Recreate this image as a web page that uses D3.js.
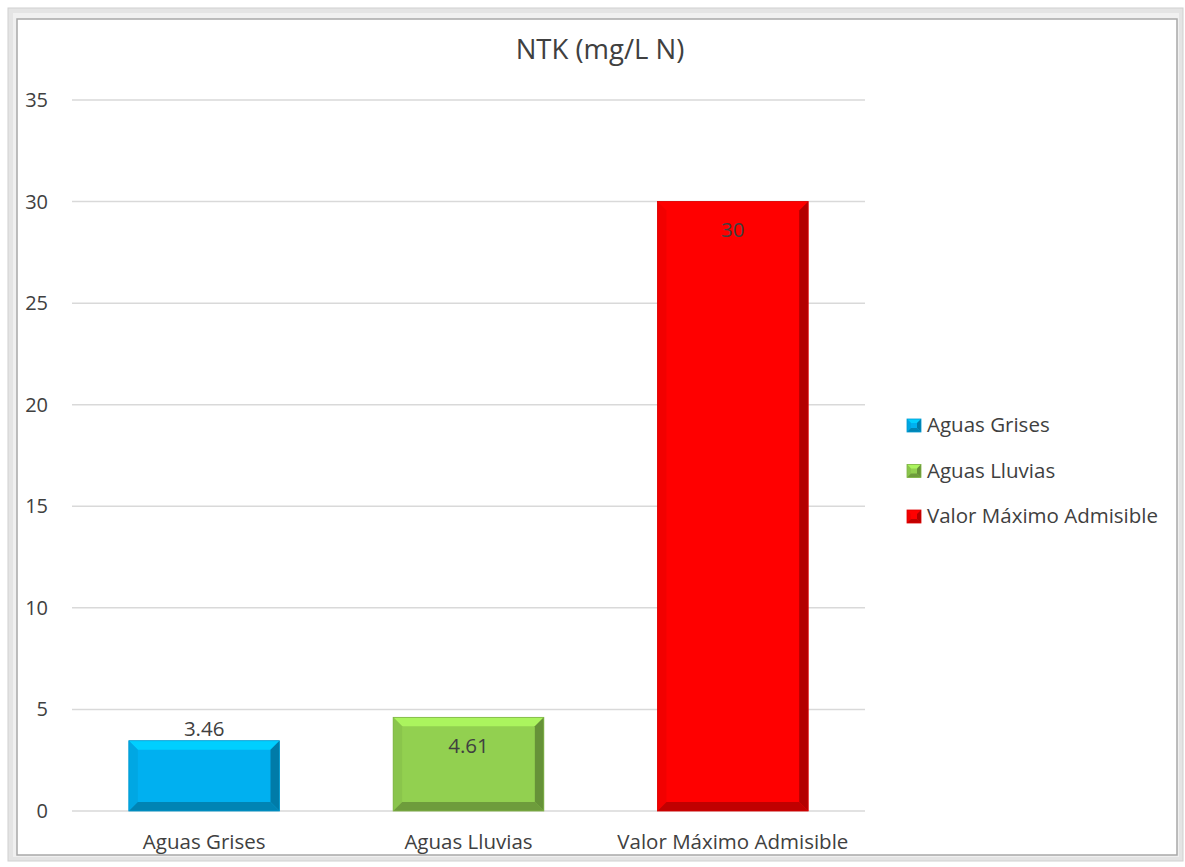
<!DOCTYPE html>
<html>
<head>
<meta charset="utf-8">
<script src="https://cdn.jsdelivr.net/npm/d3@7"></script>
<style>
  body { margin: 0; background: #fff; }
  text { font-family: "Open Sans", "Noto Sans", sans-serif; fill: #404040; }
</style>
</head>
<body>
<div id="chart"></div>
<script>
// data
const categories = ["Aguas Grises", "Aguas Lluvias", "Valor Máximo Admisible"];
const values = [3.46, 4.61, 30];
const labels = ["3.46", "4.61", "30"];
const colors = ["#00b0f0", "#92d050", "#ff0000"];
const yTicks = [0, 5, 10, 15, 20, 25, 30, 35];

const W = 1185, H = 867;
const padding = {left: 72, right: 320, top: 100, bottom: 56};

const svg = d3.select("#chart").append("svg")
    .attr("width", W).attr("height", H);

// frame
svg.append("rect").attr("x", 8).attr("y", 8).attr("width", 1175).attr("height", 853)
    .attr("fill", "#e4e4e4").attr("stroke", "#d0d0d0").attr("stroke-width", 1);
svg.append("rect").attr("x", 13).attr("y", 13).attr("width", 1166).attr("height", 844)
    .attr("fill", "#f0f0f0");
svg.append("rect").attr("x", 17).attr("y", 19).attr("width", 1160).attr("height", 836)
    .attr("fill", "#fff").attr("stroke", "#a8a8a8").attr("stroke-width", 1.5);

// scales
const x = d3.scaleBand()
    .domain(categories)
    .range([padding.left, 865])
    .paddingInner(0.43)
    .paddingOuter(0.215);
const y = d3.scaleLinear().domain([0, 35]).range([811, 100]);

// grid
svg.append("g").selectAll("line")
    .data(yTicks)
    .enter().append("line")
    .attr("x1", padding.left).attr("x2", 865)
    .attr("y1", d => y(d)).attr("y2", d => y(d))
    .attr("stroke", "#d9d9d9").attr("stroke-width", 1.5);

// y axis labels
svg.append("g").selectAll("text")
    .data(yTicks)
    .enter().append("text")
    .attr("x", 48).attr("y", d => y(d))
    .attr("dy", "0.35em")
    .attr("text-anchor", "end")
    .style("font-size", "20px")
    .text(d => d);

// x axis labels
svg.append("g").selectAll("text")
    .data(categories)
    .enter().append("text")
    .attr("x", d => x(d) + x.bandwidth() / 2)
    .attr("y", 842)
    .attr("dy", "0.35em")
    .attr("text-anchor", "middle")
    .style("font-size", "20.5px")
    .text(d => d);

// title
svg.append("text")
    .attr("x", 600).attr("y", 49)
    .attr("dy", "0.35em")
    .attr("text-anchor", "middle")
    .style("font-size", "27.5px")
    .text("NTK (mg/L N)");

// bevelled bars
const defs = svg.append("defs");
function bevel(g, x0, y0, w, h, color, b) {
    const x1 = x0 + w, y1 = y0 + h;
    const c = d3.color(color);
    g.append("rect").attr("x", x0).attr("y", y0).attr("width", w).attr("height", h).attr("fill", color);
    // top
    g.append("path")
        .attr("d", `M${x0},${y0}L${x1},${y0}L${x1 - b},${y0 + b}L${x0 + b},${y0 + b}Z`)
        .attr("fill", c.brighter(0.45));
    // left
    g.append("path")
        .attr("d", `M${x0},${y0}L${x0 + b},${y0 + b}L${x0 + b},${y1 - b}L${x0},${y1}Z`)
        .attr("fill", c.darker(0.15));
    // right
    g.append("path")
        .attr("d", `M${x1},${y0}L${x1},${y1}L${x1 - b},${y1 - b}L${x1 - b},${y0 + b}Z`)
        .attr("fill", c.darker(1.0));
    // bottom
    g.append("path")
        .attr("d", `M${x0},${y1}L${x1},${y1}L${x1 - b},${y1 - b}L${x0 + b},${y1 - b}Z`)
        .attr("fill", c.darker(0.8));
    g.append("rect").attr("x", x0).attr("y", y0).attr("width", w).attr("height", h)
        .attr("fill", "none").attr("stroke", c.darker(0.4)).attr("stroke-width", 0.8);
}

const bars = svg.append("g");
categories.forEach(function(cat, i) {
    bevel(bars, x(cat), y(values[i]), x.bandwidth(), y(0) - y(values[i]), colors[i], 9);
});

// value labels: first above bar, others inside
svg.append("g").selectAll("text")
    .data(values)
    .enter().append("text")
    .attr("x", (d, i) => x(categories[i]) + x.bandwidth() / 2)
    .attr("y", (d, i) => i == 0 ? y(d) - 12 : y(d) + 28)
    .attr("dy", "0.35em")
    .attr("text-anchor", "middle")
    .style("font-size", "20.5px")
    .text((d, i) => labels[i]);

// legend
const legend = svg.append("g").selectAll("g")
    .data(categories)
    .enter().append("g")
    .attr("transform", (d, i) => "translate(907," + (425 + i * 45.5) + ")");
legend.each(function(d, i) {
    bevel(d3.select(this), 0, -6, 14, 13, colors[i], 4);
});
legend.append("text")
    .attr("x", 20).attr("y", 0)
    .attr("dy", "0.35em")
    .style("font-size", "20.5px")
    .text(d => d);
</script>
</body>
</html>
